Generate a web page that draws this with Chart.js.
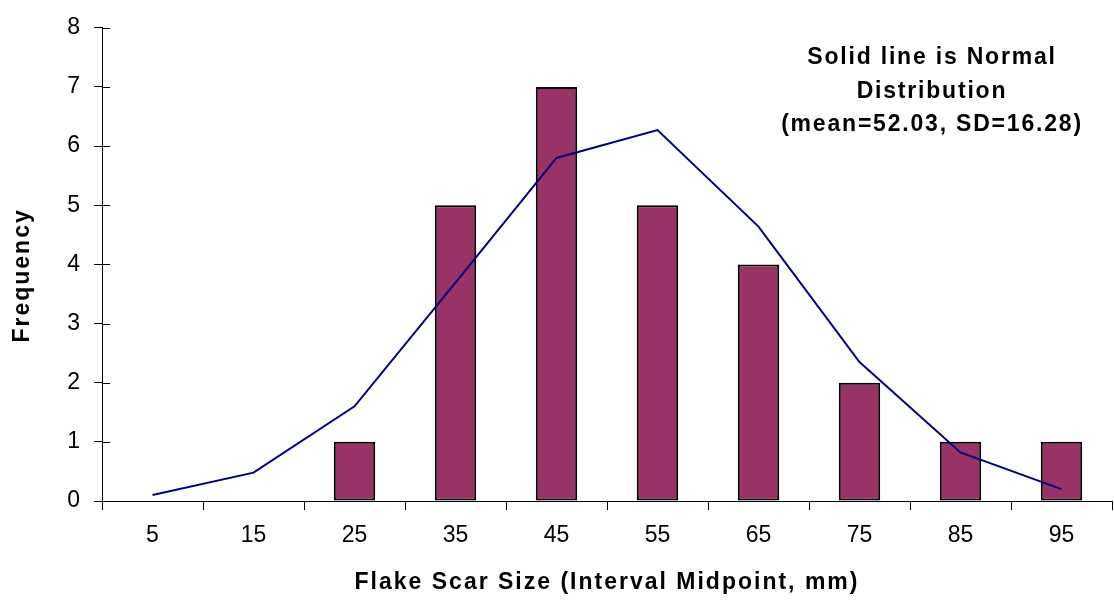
<!DOCTYPE html>
<html>
<head>
<meta charset="utf-8">
<script src="https://cdn.jsdelivr.net/npm/chart.js@4"></script>
<style>
  body { margin: 0; background: #fff; }
  #wrap { width: 1114px; height: 604px; }
</style>
</head>
<body>
<div id="wrap"><canvas id="histChart" width="1114" height="604"></canvas></div>
<script>
const midpoints = ["5", "15", "25", "35", "45", "55", "65", "75", "85", "95"];
const frequency = [0, 0, 1, 5, 7, 5, 4, 2, 1, 1];
const normalCurve = [0.10, 0.48, 1.60, 3.69, 5.80, 6.27, 4.64, 2.35, 0.82, 0.20];
const noteLines = ["Solid line is Normal", "Distribution", "(mean=52.03, SD=16.28)"];

Chart.defaults.font.family = "'Liberation Sans', Arial, sans-serif";
Chart.defaults.color = "#000";

// y ticks in the original cross the axis, so draw the inner half too
const innerTicks = {
  id: "innerTicks",
  afterDraw(chart) {
    const ctx = chart.ctx;
    const y = chart.scales.y;
    ctx.save();
    ctx.strokeStyle = "#000";
    ctx.lineWidth = 1;
    y.ticks.forEach((t) => {
      const py = Math.round(y.getPixelForValue(t.value)) + 0.5;
      ctx.beginPath();
      ctx.moveTo(y.right, py);
      ctx.lineTo(y.right + 8, py);
      ctx.stroke();
    });
    ctx.restore();
  },
};

// axis titles are spaced out in the original
const spacedTitles = {
  id: "spacedTitles",
  beforeDraw(chart) {
    Object.values(chart.scales).forEach((s) => {
      if (s._spaced) return;
      const orig = s.drawTitle.bind(s);
      s.drawTitle = function () {
        const ctx = this.ctx;
        ctx.save();
        ctx.letterSpacing = "2px";
        if (this.axis === "y") ctx.translate(0, 11);
        orig();
        ctx.restore();
      };
      s._spaced = true;
    });
  },
};

const note = {
  id: "note",
  afterDraw(chart) {
    const ctx = chart.ctx;
    ctx.save();
    ctx.font = "bold 23px 'Liberation Sans', Arial, sans-serif";
    ctx.letterSpacing = "1.8px";
    ctx.fillStyle = "#000";
    ctx.textAlign = "center";
    ctx.textBaseline = "middle";
    noteLines.forEach((line, i) => {
      ctx.fillText(line, 932, 58 + i * 33.5);
    });
    ctx.restore();
  },
};

let histChart;

const addHistChart = () => {
  let ctx = document.getElementById("histChart").getContext("2d");

  histChart = new Chart(ctx, {
    type: "bar",
    data: {
      labels: midpoints,
      datasets: [
        {
          type: "line",
          label: "Normal",
          data: normalCurve,
          borderColor: "#000080",
          borderWidth: 2,
          pointRadius: 0,
          tension: 0,
          fill: false,
          order: 0,
        },
        {
          label: "Frequency",
          data: frequency,
          backgroundColor: "#993366",
          borderColor: "#000",
          borderWidth: 2,
          borderSkipped: false,
          barPercentage: 0.41,
          categoryPercentage: 1,
          order: 1,
        },
      ],
    },
    options: {
      responsive: false,
      animation: false,
      layout: { padding: { top: 24, right: 2, left: 0, bottom: 0 } },
      plugins: {
        legend: { display: false },
        tooltip: { enabled: false },
      },
      scales: {
        x: {
          afterFit: (s) => { s.height = 103; },
          grid: {
            offset: true,
            drawOnChartArea: false,
            tickLength: 9,
            color: "#000",
          },
          border: { color: "#000", width: 1 },
          ticks: { font: { size: 23 }, padding: 12, maxRotation: 0 },
          title: {
            display: true,
            text: "Flake Scar Size (Interval Midpoint, mm)",
            font: { size: 23, weight: "bold" },
            padding: { top: 0, bottom: 8 },
          },
        },
        y: {
          min: 0,
          max: 8,
          afterFit: (s) => { s.width = 102; },
          grid: {
            drawOnChartArea: false,
            tickLength: 8,
            color: "#000",
          },
          border: { color: "#000", width: 1 },
          ticks: { stepSize: 1, font: { size: 23 }, padding: 14 },
          title: {
            display: true,
            text: "Frequency",
            font: { size: 23, weight: "bold" },
            padding: { top: 9, bottom: 0 },
          },
        },
      },
    },
    plugins: [innerTicks, spacedTitles, note],
  });
};

addHistChart();
</script>
</body>
</html>
